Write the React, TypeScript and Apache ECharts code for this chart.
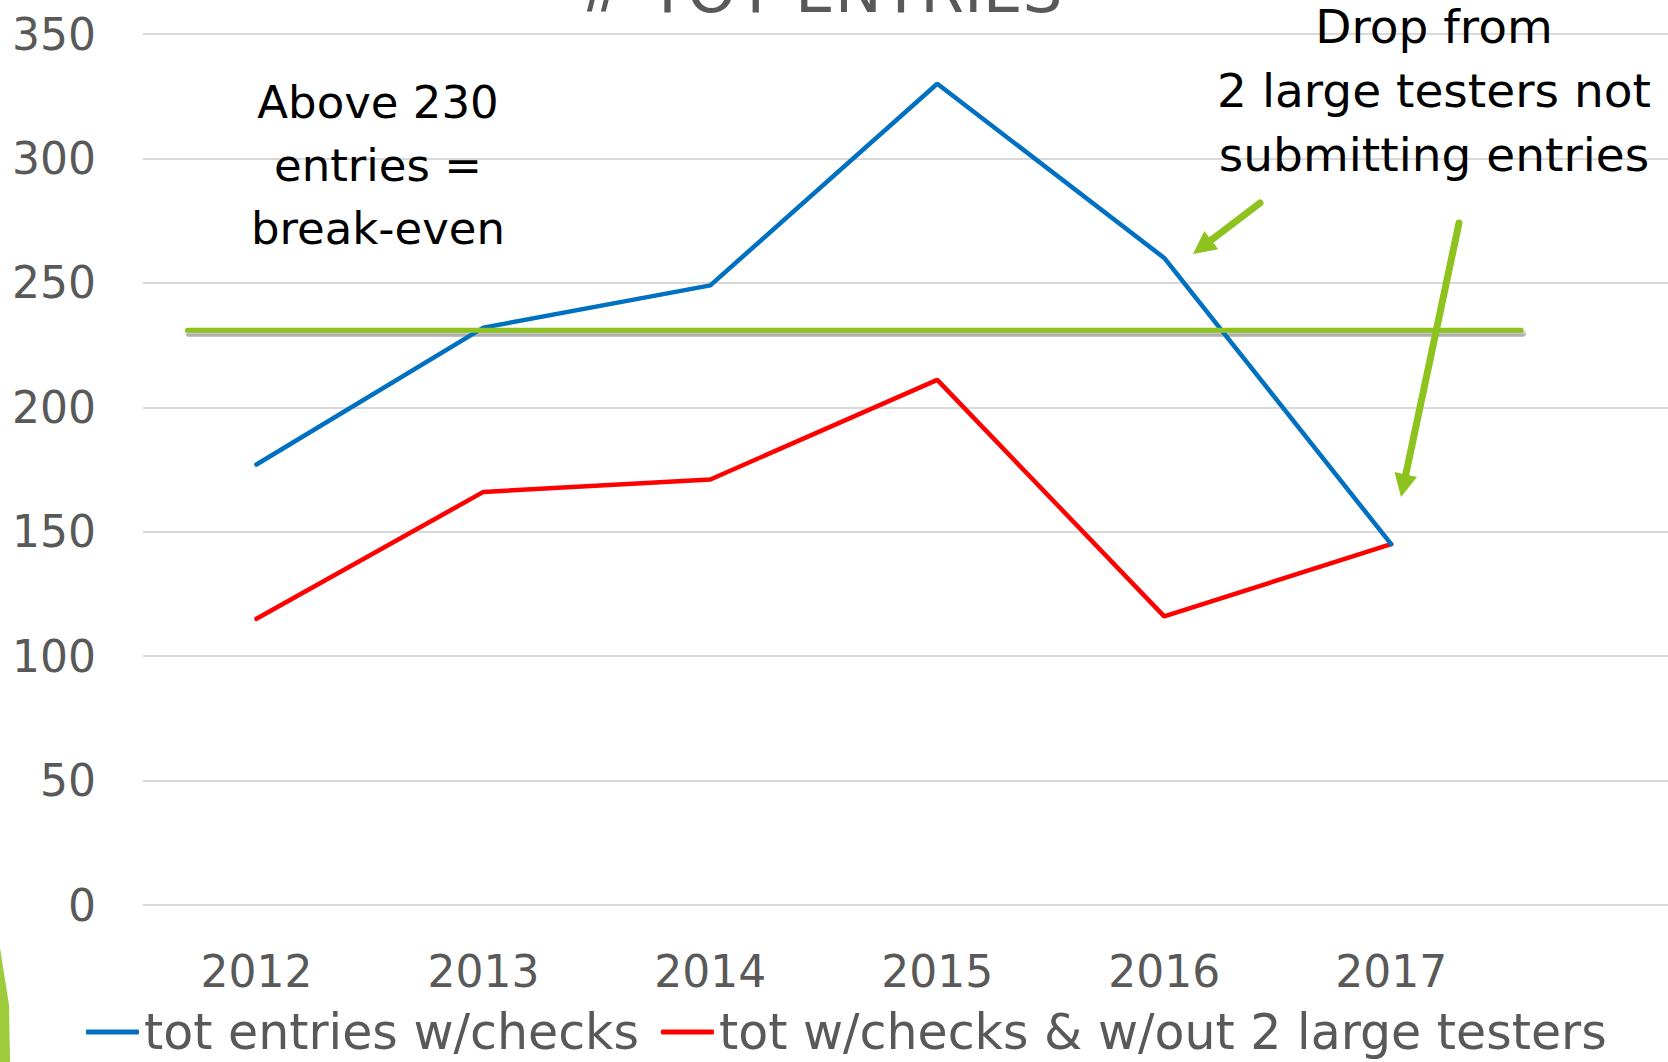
import React, { useEffect, useRef } from "react";
import * as echarts from "echarts";

const years = [2012, 2013, 2014, 2015, 2016, 2017];
const totEntries = [177, 232, 249, 330, 260, 145];
const totWithoutLarge = [115, 166, 171, 211, 116, 145];
const breakEven = 231;
const breakEvenSpan = [2011.696, 2017.573];
const xRange = { min: 2011.5, max: 2018.22 };
const yTicks = { min: 0, max: 350, interval: 50 };
const seriesNames = ["tot entries w/checks", "tot w/checks & w/out 2 large testers"];
const titleText = "# TOT ENTRIES";
const noteLeft = "Above 230\nentries =\nbreak-even";
const noteRightLines = ["Drop from", "2 large testers not", "submitting entries"];

const FONT = "DejaVu Sans";
const GREEN = "#8DC21F";

function arrow(tail: number[], tip: number[], headLen: number, headW: number, width: number) {
  const dx = tip[0] - tail[0];
  const dy = tip[1] - tail[1];
  const len = Math.sqrt(dx * dx + dy * dy);
  const ux = dx / len;
  const uy = dy / len;
  const bx = tip[0] - ux * headLen;
  const by = tip[1] - uy * headLen;
  const px = -uy;
  const py = ux;
  return [
    {
      type: "line",
      shape: { x1: tail[0], y1: tail[1], x2: bx + ux * 2, y2: by + uy * 2 },
      style: { stroke: GREEN, lineWidth: width, lineCap: "round" },
      z: 50,
    },
    {
      type: "polygon",
      shape: {
        points: [
          [tip[0], tip[1]],
          [bx + px * headW / 2, by + py * headW / 2],
          [bx - px * headW / 2, by - py * headW / 2],
        ],
      },
      style: { fill: GREEN },
      z: 50,
    },
  ];
}

export default function App() {
  const ref = useRef<HTMLDivElement>(null);
  useEffect(() => {
    if (!ref.current) return;
    const chart = echarts.init(ref.current, null, { renderer: "svg" });
    chart.setOption({
      animation: false,
      backgroundColor: "#ffffff",
      grid: { left: 143, right: 0, top: 34, bottom: 157, containLabel: false },
      legend: {
        left: 81,
        top: 999,
        icon: "roundRect",
        itemWidth: 53,
        itemHeight: 5,
        itemGap: 22,
        textStyle: { fontFamily: FONT, fontSize: 49, color: "#595959", lineHeight: 56 },
        data: seriesNames,
      },
      xAxis: {
        type: "value",
        min: xRange.min,
        max: xRange.max,
        axisLine: { show: false },
        axisTick: { show: false },
        splitLine: { show: false },
        axisLabel: {
          customValues: years,
          formatter: (v: number) => String(v),
          fontFamily: FONT,
          fontSize: 44,
          color: "#595959",
          margin: 44,
        },
      },
      yAxis: {
        type: "value",
        min: yTicks.min,
        max: yTicks.max,
        interval: yTicks.interval,
        axisLine: { show: false },
        axisTick: { show: false },
        axisLabel: { fontFamily: FONT, fontSize: 44, color: "#595959", margin: 47 },
        splitLine: { lineStyle: { color: "#D9D9D9", width: 2 } },
      },
      series: [
        {
          name: seriesNames[0],
          type: "line",
          data: years.map((y, i) => [y, totEntries[i]]),
          symbol: "none",
          lineStyle: { color: "#0070C0", width: 4.5, cap: "round" },
          itemStyle: { color: "#0070C0" },
          z: 3,
        },
        {
          name: seriesNames[1],
          type: "line",
          data: years.map((y, i) => [y, totWithoutLarge[i]]),
          symbol: "none",
          lineStyle: { color: "#FF0000", width: 4.5, cap: "round" },
          itemStyle: { color: "#FF0000" },
          z: 2,
        },
        {
          name: "break-even",
          type: "line",
          data: breakEvenSpan.map((x) => [x, breakEven]),
          symbol: "none",
          silent: true,
          lineStyle: { color: GREEN, width: 5, cap: "round" },
          itemStyle: { color: GREEN },
          z: 4,
        },
      ],
    });

    const p0 = chart.convertToPixel({ gridIndex: 0 }, [breakEvenSpan[0], breakEven]) as number[];
    const p1 = chart.convertToPixel({ gridIndex: 0 }, [breakEvenSpan[1], breakEven]) as number[];
    const shadowLines = [
      { off: 3, w: 7, a: 0.1 },
      { off: 4, w: 5, a: 0.12 },
      { off: 5, w: 3, a: 0.12 },
    ].map((s) => ({
      type: "line",
      shape: { x1: p0[0] + 1, y1: p0[1] + s.off, x2: p1[0] + 2, y2: p1[1] + s.off },
      style: { stroke: `rgba(0,0,0,${s.a})`, lineWidth: s.w, lineCap: "round" },
      z: 1,
      silent: true,
    }));

    const rightNote = noteRightLines.map((t, i) => ({
      type: "text",
      x: 1434,
      y: 26 + i * 64,
      style: {
        text: t,
        fontFamily: FONT,
        fontSize: 47,
        lineHeight: 48,
        fill: "#000000",
        align: "center",
        verticalAlign: "middle",
      },
      z: 20,
    }));

    chart.setOption({
      graphic: [
        ...shadowLines,
        {
          type: "text",
          x: 819,
          y: -10,
          style: {
            text: titleText,
            fontFamily: FONT,
            fontSize: 63,
            fill: "#595959",
            align: "center",
            verticalAlign: "middle",
          },
          z: 20,
        },
        {
          type: "text",
          x: 378,
          y: 165,
          style: {
            text: noteLeft,
            fontFamily: FONT,
            fontSize: 45,
            lineHeight: 63,
            fill: "#000000",
            align: "center",
            verticalAlign: "middle",
          },
          z: 20,
        },
        ...rightNote,
        ...arrow([1260, 203], [1193, 254], 23, 23, 7),
        ...arrow([1459, 223], [1401, 497], 23, 23, 7),
        {
          type: "polygon",
          shape: { points: [[0, 948], [9, 1005], [10, 1062], [0, 1062]] },
          style: { fill: "#9CCB3B" },
          z: 20,
        },
      ],
    });

    return () => chart.dispose();
  }, []);
  return (
    <div
      ref={ref}
      style={{ position: "fixed", left: 0, top: 0, width: 1668, height: 1062 }}
    />
  );
}
